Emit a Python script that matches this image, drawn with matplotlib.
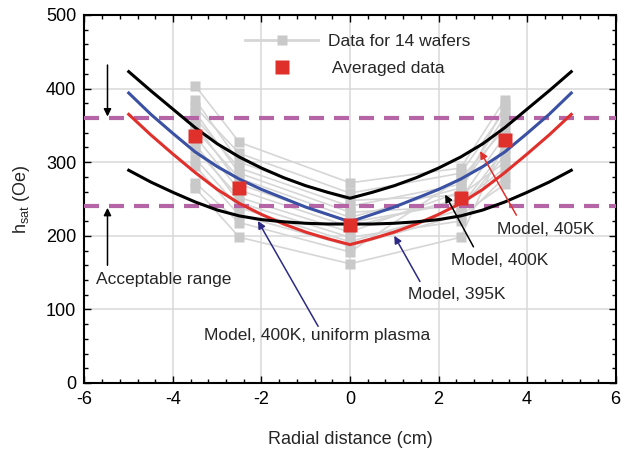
import numpy as np
import matplotlib
matplotlib.use('Agg')
import matplotlib.pyplot as plt

plt.rcParams['font.family'] = ['Liberation Sans', 'DejaVu Sans']
plt.rcParams['mathtext.fontset'] = 'custom'
plt.rcParams['mathtext.rm'] = 'Liberation Sans'
plt.rcParams['mathtext.it'] = 'Liberation Sans:italic'
plt.rcParams['axes.unicode_minus'] = False

# measured positions on the wafer (cm)
wafer_r = [-3.5, -2.5, 0, 2.5, 3.5]
# h_sat of each of the 14 wafers at those positions (Oe)
wafer_m35 = [404, 385, 375, 368, 360, 352, 345, 335, 325, 318, 305, 295, 272, 265]
wafer_m25 = [327, 300, 312, 285, 292, 270, 278, 262, 245, 252, 238, 228, 218, 198]
wafer_0 = [272, 248, 258, 232, 240, 218, 225, 212, 198, 205, 192, 186, 178, 162]
wafer_p25 = [292, 255, 285, 240, 270, 245, 265, 250, 220, 260, 235, 228, 278, 198]
wafer_p35 = [385, 300, 370, 318, 362, 292, 352, 336, 280, 378, 310, 270, 345, 328]
avg_hsat = [336, 265, 215, 252, 330]

# model curves
model_r = [-5, -4.5, -4, -3.5, -3, -2.5, -2, -1.5, -1, -0.5, 0,
           0.5, 1, 1.5, 2, 2.5, 3, 3.5, 4, 4.5, 5]
model_405 = [423, 397, 372, 347, 325, 307, 292, 279, 268, 259, 251,
             259, 268, 279, 292, 307, 325, 347, 372, 397, 423]
model_400 = [394, 365, 339, 314, 294, 277, 263, 251, 239, 229, 219,
             229, 239, 251, 263, 277, 294, 314, 339, 365, 394]
model_395 = [365, 337, 311, 286, 263, 244, 229, 216, 205, 196, 188,
             196, 205, 216, 229, 244, 263, 286, 311, 337, 365]
model_uniform = [289, 273, 259, 246, 235, 227, 222, 219, 217, 216, 216,
                 216, 217, 219, 222, 227, 235, 246, 259, 273, 289]

range_low = 240
range_high = 360

blue = '#3a51a3'
red = '#e0302c'
navy = '#2c2a84'
purple = '#b565a5'
txt = '#262626'

fig = plt.figure(figsize=(6.3, 4.5), dpi=100)
ax = fig.add_axes([0.1341, 0.1489, 0.8429, 0.8178])

ax.grid(True, color='#d9d9d9', lw=1.1, zorder=0)
ax.set_axisbelow(True)

wafers = np.array([wafer_m35, wafer_m25, wafer_0, wafer_p25, wafer_p35])
for i in range(wafers.shape[1]):
    ax.plot(wafer_r, wafers[:, i], color='#d6d6d6', lw=1.2, zorder=2)
for i in range(wafers.shape[1]):
    ax.plot(wafer_r, wafers[:, i], ls='none', marker='s', ms=7.2,
            color='#c9c9c9', mec='none', zorder=3)

ax.axhline(range_high, color=purple, lw=3, dashes=(3.6, 2.4), zorder=4)
ax.axhline(range_low, color=purple, lw=3, dashes=(3.6, 2.4), zorder=4)

ax.plot(model_r, model_405, color='black', lw=2.2, zorder=5)
ax.plot(model_r, model_400, color=blue, lw=2.2, zorder=5)
ax.plot(model_r, model_395, color=red, lw=2.2, zorder=5)
ax.plot(model_r, model_uniform, color='black', lw=2.2, zorder=5)

ax.plot(wafer_r, avg_hsat, ls='none', marker='s', ms=10.6, color=red,
        mec='none', zorder=6)

# legend
h1, = ax.plot([], [], color='#d6d6d6', lw=2, marker='s', ms=7.2,
              mfc='#c9c9c9', mec='none')
h2, = ax.plot([], [], ls='none', marker='s', ms=10.6, color=red, mec='none')
ax.legend([h1, h2], ['Data for 14 wafers', ' Averaged data'],
          loc='upper center', bbox_to_anchor=(0.515, 0.99), frameon=False,
          fontsize=12.5, handlelength=4.2, handletextpad=0.6,
          labelspacing=0.65, labelcolor=txt)

# annotations
def arrow(xy, xytext, color, text='', **kw):
    ax.annotate(text, xy=xy, xytext=xytext, color=txt, fontsize=12.5,
                arrowprops=dict(arrowstyle='-|>', color=color, lw=1.1,
                                mutation_scale=11, shrinkA=0, shrinkB=0),
                zorder=7, **kw)

arrow((-5.48, 362), (-5.48, 432), 'black')
arrow((-5.48, 238), (-5.48, 160), 'black')
ax.text(-5.75, 141, 'Acceptable range', fontsize=12.5, color=txt, va='center')

arrow((2.94, 315), (3.76, 228), red)
ax.text(4.42, 208, 'Model, 405K', fontsize=12.5, color=txt, ha='center', va='center')
arrow((2.15, 256), (2.79, 185), 'black')
ax.text(3.37, 167, 'Model, 400K', fontsize=12.5, color=txt, ha='center', va='center')
arrow((1.0, 200), (1.58, 138), navy)
ax.text(2.42, 120, 'Model, 395K', fontsize=12.5, color=txt, ha='center', va='center')
arrow((-2.08, 220), (-0.72, 77), navy)
ax.text(-0.75, 65, 'Model, 400K, uniform plasma', fontsize=12.5, color=txt,
        ha='center', va='center')

ax.set_xlim(-6, 6)
ax.set_ylim(0, 500)
ax.set_xticks([-6, -4, -2, 0, 2, 4, 6])
ax.set_yticks([0, 100, 200, 300, 400, 500])
ax.set_xticks(np.arange(-6, 6.01, 0.4), minor=True)
ax.set_yticks(np.arange(0, 501, 20), minor=True)
ax.tick_params(which='both', direction='in', top=True, right=True,
               labelsize=13, colors='black', width=1)
ax.tick_params(which='major', length=5, pad=6)
ax.tick_params(which='minor', length=3)
for s in ax.spines.values():
    s.set_linewidth(1.5)

ax.set_xlabel('Radial distance (cm)', fontsize=13, color=txt, labelpad=16)
ax.set_ylabel(r'h$_\mathrm{sat}$ (Oe)', fontsize=13, color=txt, labelpad=10)

fig.savefig('out.png', dpi=100)
